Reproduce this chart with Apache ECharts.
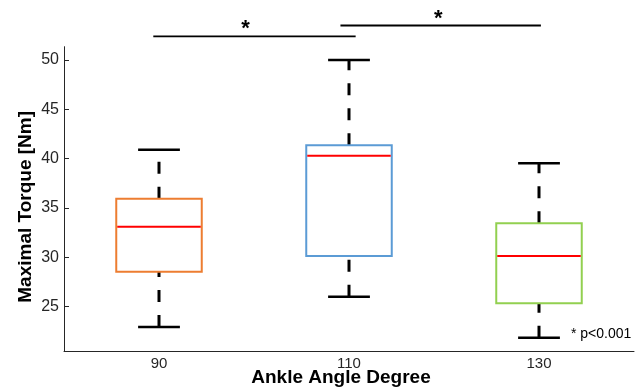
<!DOCTYPE html>
<html>
<head>
<meta charset="utf-8">
<style>
  html, body { margin: 0; padding: 0; background: #ffffff; }
  #chart { width: 643px; height: 387px; }
</style>
<script src="https://cdn.jsdelivr.net/npm/echarts@6/dist/echarts.min.js"></script>
</head>
<body>
<div id="chart"></div>
<script>
// Ankle angle groups on the horizontal axis
const categories = ['90', '110', '130'];

// Five-number summaries of maximal torque [Nm] per angle
const whiskerLow  = [22.95, 26.0, 21.85];
const quartile1   = [28.55, 30.15, 25.35];
const medians     = [33.1, 40.3, 30.15];
const quartile3   = [35.95, 41.35, 33.45];
const whiskerHigh = [40.9, 50.0, 39.55];

// Value axis ticks
const yTicks = [25, 30, 35, 40, 45, 50];

// Significance brackets: span on the angle axis, height in Nm, star position
const sigFrom  = [-0.03, 0.955];
const sigTo    = [1.035, 2.01];
const sigLevel = [52.4, 53.5];
const sigStarX = [0.455, 1.47];
const sigMarks = ['*', '*'];

const boxColors = ['#ED7D31', '#5B9BD5', '#92D050'];
const FONT = 'Liberation Sans, Arial, sans-serif';

const boxData = categories.map((c, i) => [i, whiskerLow[i], quartile1[i], medians[i], quartile3[i], whiskerHigh[i]]);
const sigData = sigFrom.map((f, i) => [f, sigTo[i], sigLevel[i], sigStarX[i]]);

const BOX_HALF = 0.225;
const CAP_HALF = 0.11;

function renderBox(params, api) {
  const i = api.value(0);
  const lo = api.value(1), q1 = api.value(2), med = api.value(3), q3 = api.value(4), hi = api.value(5);
  const pLo = api.coord([i, lo]);
  const pQ1 = api.coord([i, q1]);
  const pQ3 = api.coord([i, q3]);
  const pHi = api.coord([i, hi]);
  const left = api.coord([i - BOX_HALF, med])[0];
  const right = api.coord([i + BOX_HALF, med])[0];
  const cl = api.coord([i - CAP_HALF, med])[0];
  const cr = api.coord([i + CAP_HALF, med])[0];
  const pMed = api.coord([i, med]);
  const whiskerStyle = { stroke: '#000', lineWidth: 3, lineDash: [12, 13], fill: null };
  const capStyle = { stroke: '#000', lineWidth: 2.5, fill: null };
  return {
    type: 'group',
    children: [
      { type: 'line', shape: { x1: pLo[0], y1: pLo[1], x2: pQ1[0], y2: pQ1[1] }, style: whiskerStyle },
      { type: 'line', shape: { x1: pQ3[0], y1: pQ3[1], x2: pHi[0], y2: pHi[1] }, style: whiskerStyle },
      { type: 'line', shape: { x1: cl, y1: pLo[1], x2: cr, y2: pLo[1] }, style: capStyle },
      { type: 'line', shape: { x1: cl, y1: pHi[1], x2: cr, y2: pHi[1] }, style: capStyle },
      { type: 'rect', shape: { x: left, y: pQ3[1], width: right - left, height: pQ1[1] - pQ3[1] },
        style: { stroke: boxColors[params.dataIndex], lineWidth: 2, fill: '#fff' } },
      { type: 'line', shape: { x1: left + 1, y1: pMed[1], x2: right - 1, y2: pMed[1] },
        style: { stroke: '#FF0000', lineWidth: 2 } }
    ]
  };
}

function renderSig(params, api) {
  const a = api.coord([api.value(0), api.value(2)]);
  const b = api.coord([api.value(1), api.value(2)]);
  const s = api.coord([api.value(3), api.value(2)]);
  return {
    type: 'group',
    children: [
      { type: 'line', shape: { x1: a[0], y1: a[1], x2: b[0], y2: b[1] }, style: { stroke: '#000', lineWidth: 1.8 } },
      { type: 'text', x: s[0], y: s[1] + 4,
        style: { text: sigMarks[params.dataIndex], font: 'bold 22px ' + FONT, fill: '#000',
                 align: 'center', verticalAlign: 'bottom' } }
    ]
  };
}

const chart = echarts.init(document.getElementById('chart'), null, { renderer: 'canvas' });
chart.setOption({
  animation: false,
  backgroundColor: '#ffffff',
  grid: { left: 64, right: 9, top: 46.7, bottom: 36, outerBoundsMode: 'none', containLabel: false },
  xAxis: {
    type: 'value',
    min: -0.5,
    max: 2.5,
    name: 'Ankle Angle Degree',
    nameLocation: 'middle',
    nameGap: 17,
    nameMoveOverlap: false,
    nameTextStyle: { fontFamily: FONT, fontWeight: 'bold', fontSize: 19, color: '#000', padding: [0, 16, 0, 0] },
    axisLine: { show: true, onZero: false, lineStyle: { color: '#262626', width: 1 } },
    axisTick: { show: false },
    splitLine: { show: false },
    axisLabel: {
      customValues: [0, 1, 2],
      formatter: v => categories[Math.round(v)],
      fontFamily: FONT, fontSize: 15, color: '#262626', margin: 5
    }
  },
  yAxis: {
    type: 'value',
    min: 20.51,
    max: 51.35,
    name: 'Maximal Torque [Nm]',
    nameLocation: 'middle',
    nameGap: 29,
    nameMoveOverlap: false,
    nameTextStyle: { fontFamily: FONT, fontWeight: 'bold', fontSize: 19, color: '#000', padding: [0, 16, 0, 0] },
    axisLine: { show: true, onZero: false, lineStyle: { color: '#262626', width: 1 } },
    axisTick: { show: true, inside: true, length: 5, customValues: yTicks, lineStyle: { color: '#262626' } },
    splitLine: { show: false },
    axisLabel: { customValues: yTicks, fontFamily: FONT, fontSize: 16, color: '#262626', margin: 5 }
  },
  graphic: [
    { type: 'text', left: 571, top: 327,
      style: { text: '* p<0.001', font: '14px ' + FONT, fill: '#000' } }
  ],
  series: [
    { type: 'custom', name: 'torque', renderItem: renderBox, data: boxData,
      encode: { x: 0, y: [1, 2, 3, 4, 5] }, clip: false, z: 2 },
    { type: 'custom', name: 'significance', renderItem: renderSig, data: sigData,
      encode: { x: [0, 1], y: 2 }, clip: false, z: 3 }
  ]
});
</script>
</body>
</html>
